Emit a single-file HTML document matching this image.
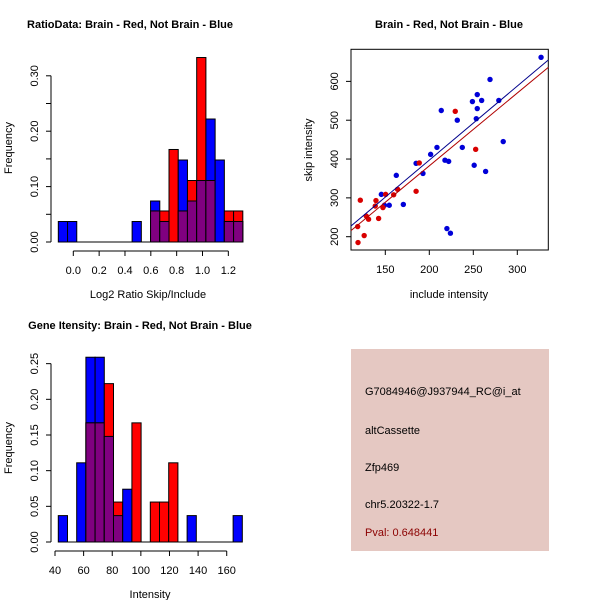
<!DOCTYPE html>
<html><head><meta charset="utf-8"><style>
body{margin:0;background:#fff}
svg{display:block;font-family:"Liberation Sans",Arial,sans-serif}
</style></head><body>
<svg id="s" width="600" height="600" xmlns="http://www.w3.org/2000/svg">
<rect width="600" height="600" fill="#fff"/>
<text x="130" y="28" font-size="11" font-weight="bold" text-anchor="middle">RatioData: Brain - Red, Not Brain - Blue</text>
<text x="449" y="28" font-size="11" font-weight="bold" text-anchor="middle">Brain - Red, Not Brain - Blue</text>
<text x="140" y="329" font-size="11" font-weight="bold" text-anchor="middle">Gene Itensity: Brain - Red, Not Brain - Blue</text>
<g id="g1"></g>
<g id="g2"></g>
<g id="g3"></g>
<g>
<rect x="351" y="349" width="198" height="202" fill="#e5c8c2"/>
<text x="365" y="395" font-size="11">G7084946@J937944_RC@i_at</text>
<text x="365" y="434" font-size="11">altCassette</text>
<text x="365" y="471" font-size="11">Zfp469</text>
<text x="365" y="508" font-size="11">chr5.20322-1.7</text>
<text x="365" y="536" font-size="11" fill="#8b0000">Pval: 0.648441</text>
</g>
</svg>
<script>
// Ratio histogram data
const ratioBinStart = -0.116;
const ratioBinWidth = 0.0714;
const ratioBlue = [0.037,0.037,0,0,0,0,0,0,0.037,0,0.074,0.037,0,0.148,0.074,0.111,0.222,0.148,0.037,0.037];
const ratioRed  = [0,0,0,0,0,0,0,0,0,0,0.056,0.056,0.167,0.056,0.111,0.333,0.111,0,0.056,0.056];
const ratioXTicks = [0.0,0.2,0.4,0.6,0.8,1.0,1.2];
const ratioYTicks = [0,0.05,0.10,0.15,0.20,0.25,0.30];
// Intensity histogram data
const intBinStart = 42.3;
const intBinWidth = 6.43;
const intBlue = [0.037,0,0.111,0.259,0.259,0.148,0.037,0.074,0,0,0,0,0,0,0.037,0,0,0,0,0.037];
const intRed  = [0,0,0,0.167,0.167,0.222,0.056,0,0.167,0,0.056,0.056,0.111,0,0,0,0,0,0,0];
const intXTicks = [40,60,80,100,120,140,160];
const intYTicks = [0,0.05,0.10,0.15,0.20,0.25];
// Scatter data
const blueX = [327,269,254.5,249,259.5,279,254.5,253.4,213.6,231.8,208.7,237.5,201.5,284,217.8,222,251,264,185,162.5,192.8,170.5,154.5,145.5,149,220,224];
const blueY = [662,605,566,548,551,551,530,504,525,500,430,430,412,445,397,394,384,368,389,358,363,283,281,309,281,221,209];
const redX = [229.5,252.7,188.6,185,164,159.5,150.4,139.4,121.6,138.6,147.3,128.4,131,142.4,118.6,126,119];
const redY = [523,425,390,317,322,308,309,293,294,279,275,253,245,247,226,203,185];
const fitSlope = [1.907,1.876];
const fitIntercept = [15.8,7.3];
const scXTicks = [150,200,250,300];
const scYTicks = [200,300,400,500,600];

const NS='http://www.w3.org/2000/svg';
function mk(p,t,a){const e=document.createElementNS(NS,t);for(const k in a)e.setAttribute(k,a[k]);p.appendChild(e);return e;}

function hist(g,o){
  const X=v=>o.x0+(v-o.xv0)*o.xs, Y=v=>o.y0-v*o.ys;
  const n=o.blue.length;
  for(let i=0;i<n;i++){
    const l=X(o.bs+i*o.bw), r=X(o.bs+(i+1)*o.bw);
    const b=o.blue[i], rd=o.red[i];
    if(b>0){const e=mk(g,'rect',{x:l,y:Y(b),width:r-l,height:Y(0)-Y(b),fill:'#0000ff',stroke:'#000','stroke-width':1});
      
      }
    if(rd>0){const e=mk(g,'rect',{x:l,y:Y(rd),width:r-l,height:Y(0)-Y(rd),fill:'#ff0000',stroke:'#000','stroke-width':1});
      
      }
    const m=Math.min(b,rd);
    if(m>0){const e=mk(g,'rect',{x:l,y:Y(m),width:r-l,height:Y(0)-Y(m),fill:'#800080',stroke:'#000','stroke-width':1});
      
      }
  }
  mk(g,'line',{x1:X(o.bs),x2:X(o.bs+n*o.bw),y1:Y(0),y2:Y(0),stroke:'#000'});
  const ya=mk(g,'g',{});
  
  
  mk(ya,'line',{x1:o.yax,x2:o.yax,y1:Y(o.yt[0]),y2:Y(o.yt[o.yt.length-1]),stroke:'#000'});
  o.yt.forEach((t,i)=>{mk(ya,'line',{x1:o.yax-5,x2:o.yax,y1:Y(t),y2:Y(t),stroke:'#000'});
    if(i%o.ylEvery===0){const tx=mk(ya,'text',{x:0,y:0,'font-size':11,'text-anchor':'middle',transform:`translate(${o.yax-13},${Y(t)}) rotate(-90)`});tx.textContent=t.toFixed(2);
      
      }});
  const xa=mk(g,'g',{});
  
  
  const xy=o.xay;
  mk(xa,'line',{x1:X(o.xt[0]),x2:X(o.xt[o.xt.length-1]),y1:xy,y2:xy,stroke:'#000'});
  o.xt.forEach(t=>{mk(xa,'line',{x1:X(t),x2:X(t),y1:xy,y2:xy+5,stroke:'#000'});
    const tx=mk(xa,'text',{x:X(t),y:xy+23,'font-size':11,'text-anchor':'middle'});tx.textContent=o.fmt(t);
    
    });
  const xl=mk(g,'text',{x:o.xlc,y:o.xly,'font-size':11,'text-anchor':'middle'});xl.textContent=o.xlab;
  
  
  const yl=mk(g,'text',{x:0,y:0,'font-size':11,'text-anchor':'middle',transform:`translate(12,${o.ylc}) rotate(-90)`});yl.textContent='Frequency';
  
  
}
hist(document.getElementById('g1'),{x0:73.3,xv0:0,xs:129.2,y0:242,ys:554,blue:ratioBlue,red:ratioRed,bs:ratioBinStart,bw:ratioBinWidth,
  yt:ratioYTicks,ylEvery:2,yax:51,xt:ratioXTicks,xay:251,fmt:t=>t.toFixed(1),xlab:'Log2 Ratio Skip/Include',xlc:148,xly:298,ylc:148});
hist(document.getElementById('g3'),{x0:55,xv0:40,xs:1.431,y0:542,ys:713.4,blue:intBlue,red:intRed,bs:intBinStart,bw:intBinWidth,
  yt:intYTicks,ylEvery:1,yax:51,xt:intXTicks,xay:551,fmt:t=>String(t),xlab:'Intensity',xlc:150,xly:598,ylc:448});

(function(){
  const g=document.getElementById('g2');
  const X=v=>385.3+(v-150)*0.88, Y=v=>236.7-(v-200)*0.3883;
  const L=351,R=548.3,T=49.3,B=250;
  const box=mk(g,'rect',{x:L,y:T,width:R-L,height:B-T,fill:'none',stroke:'#000'});
  
  
  const cols=['#0000d8','#d80000'];
  blueX.forEach((v,i)=>{const c=mk(g,'circle',{cx:X(v),cy:Y(blueY[i]),r:2.7,fill:cols[0]});
    
    });
  redX.forEach((v,i)=>{const c=mk(g,'circle',{cx:X(v),cy:Y(redY[i]),r:2.7,fill:cols[1]});
    
    });
  const lc=['#00008b','#b00000'];
  const x1=(L-385.3)/0.88+150, x2=(R-385.3)/0.88+150;
  fitSlope.forEach((s,i)=>{const ln=mk(g,'line',{x1:L,x2:R,y1:Y(fitIntercept[i]+s*x1),y2:Y(fitIntercept[i]+s*x2),stroke:lc[i],'stroke-width':1});
    
    });
  scXTicks.forEach(t=>{mk(g,'line',{x1:X(t),x2:X(t),y1:B,y2:B+5,stroke:'#000'});
    const tx=mk(g,'text',{x:X(t),y:B+23,'font-size':11,'text-anchor':'middle'});tx.textContent=t;
    
    });
  scYTicks.forEach(t=>{mk(g,'line',{x1:L-5,x2:L,y1:Y(t),y2:Y(t),stroke:'#000'});
    const tx=mk(g,'text',{x:0,y:0,'font-size':11,'text-anchor':'middle',transform:`translate(${L-13},${Y(t)}) rotate(-90)`});tx.textContent=t;
    
    });
  const xl=mk(g,'text',{x:449,y:298,'font-size':11,'text-anchor':'middle'});xl.textContent='include intensity';
  
  
  const yl=mk(g,'text',{x:0,y:0,'font-size':11,'text-anchor':'middle',transform:'translate(312,150) rotate(-90)'});yl.textContent='skip intensity';
  
  
})();
</script>
</body></html>
